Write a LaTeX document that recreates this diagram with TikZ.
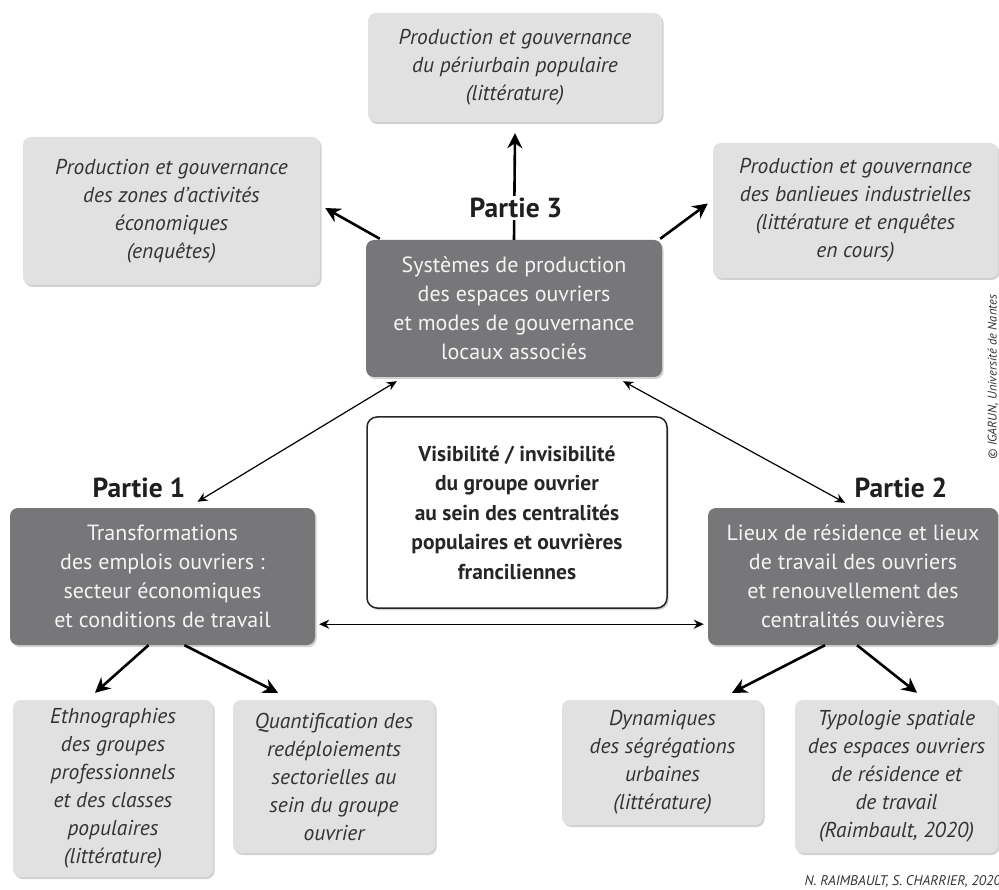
\documentclass[tikz,border=0pt]{standalone}
\usepackage{fontspec}
\setmainfont{PT Sans}
\usetikzlibrary{arrows.meta,shadows,calc}
\definecolor{lightbox}{HTML}{E1E1E2}
\definecolor{darkbox}{HTML}{77777A}
\definecolor{txt}{HTML}{333333}
\definecolor{wtxt}{HTML}{F4F4F4}
\tikzset{
  shade/.style={drop shadow={fill=black, opacity=0.18, shadow xshift=1.5pt, shadow yshift=-2pt}},
  lbox/.style={fill=lightbox, rounded corners=8pt, align=center, inner sep=0pt, text=txt,
     font=\itshape\fontsize{21.5}{28}\selectfont, shade},
  dbox/.style={fill=darkbox, rounded corners=8pt, align=center, inner sep=0pt, text=wtxt,
     font=\fontsize{22}{29}\selectfont, shade},
  wbox/.style={fill=white, draw=black!85, line width=1.5pt, rounded corners=10pt, align=center, inner sep=0pt, text=black!85,
     font=\bfseries\fontsize{21.5}{29.5}\selectfont, shade},
  partlabel/.style={font=\bfseries\fontsize{27.5}{30}\selectfont, text=black!88, inner sep=2pt},
  thickarrow/.style={line width=2.6pt, -{Stealth[length=15pt,width=15pt]}},
  thinarrow/.style={line width=1.2pt, {Stealth[length=10pt,width=9pt]}-{Stealth[length=10pt,width=9pt]}},
}
\begin{document}
\begin{tikzpicture}[x=1pt,y=-1pt]
\useasboundingbox[fill=white] (0,0) rectangle (999,890);

% nodes
\node[lbox, minimum width=294pt, minimum height=109pt] (top) at (515,67.5)
  {Production et gouvernance\\du périurbain populaire\\(littérature)};
\node[lbox, minimum width=297pt, minimum height=148pt] (tl) at (171.5,211)
  {Production et gouvernance\\des zones d’activités\\économiques\\(enquêtes)};
\node[lbox, minimum width=285pt, minimum height=135pt] (tr) at (855.5,210.5)
  {Production et gouvernance\\des banlieues industrielles\\(littérature et enquêtes\\en cours)};
\node[dbox, minimum width=296pt, minimum height=137pt] (cd) at (514,308.5)
  {Systèmes de production\\des espaces ouvriers\\et modes de gouvernance\\locaux associés};
\node[wbox, minimum width=300pt, minimum height=191pt] (cw) at (517,512.5)
  {Visibilité / invisibilité\\du groupe ouvrier\\au sein des centralités\\populaires et ouvrières\\franciliennes};
\node[dbox, minimum width=305pt, minimum height=137pt] (p1) at (162.5,576.5)
  {Transformations\\des emplois ouvriers :\\secteur économiques\\et conditions de travail};
\node[dbox, minimum width=290pt, minimum height=137pt] (p2) at (853,576.5)
  {Lieux de résidence et lieux\\de travail des ouvriers\\et renouvellement des\\centralités ouvières};
\node[lbox, minimum width=200pt, minimum height=177pt] (eth) at (113,788.5)
  {Ethnographies\\des groupes\\professionnels\\et des classes\\populaires\\(littérature)};
\node[lbox, minimum width=202pt, minimum height=153pt] (qua) at (334,776.5)
  {Quantification des\\redéploiements\\sectorielles au\\sein du groupe\\ouvrier};
\node[lbox, minimum width=201pt, minimum height=125pt] (dyn) at (662.5,762.5)
  {Dynamiques\\des ségrégations\\urbaines\\(littérature)};
\node[lbox, minimum width=203pt, minimum height=153pt] (typ) at (896.5,776.5)
  {Typologie spatiale\\des espaces ouvriers\\de résidence et\\de travail\\(Raimbault, 2020)};

% connectors
\draw[thickarrow] (cd.north) -- ($(top.south)+(0,11)$);
\node[partlabel, fill=white] (l3) at (516,208) {Partie 3};
\draw[thickarrow] ($(cd.north west)+(14,-1)$) -- ($(tl.east)+(5,-3)$);
\draw[thickarrow] ($(cd.north east)+(-2,-1)$) -- ($(tr.west)+(-5,-7)$);
\draw[thinarrow] ($(cd.south west)+(31,4)$) -- ($(p1.north)+(35,-6)$);
\draw[thinarrow] ($(cd.south east)+(-39,4)$) -- ($(p2.north)+(-8,-5)$);
\draw[thinarrow] ($(p1.south east)+(4,-21)$) -- ($(p2.south west)+(-4,-21)$);
\draw[thickarrow] ($(p1.south)+(-14,0)$) -- ($(eth.north)+(-18,-7)$);
\draw[thickarrow] ($(p1.south)+(22,0)$) -- ($(qua.north)+(-56,-7)$);
\draw[thickarrow] ($(p2.south)+(-28,0)$) -- ($(dyn.north)+(69.5,-7)$);
\draw[thickarrow] ($(p2.south)+(4,0)$) -- ($(typ.north)+(20.5,-7)$);

\node[partlabel] (l1) at (139,488) {Partie 1};
\node[partlabel] (l2) at (901,488) {Partie 2};

\node[rotate=90, font=\itshape\fontsize{12.5}{14}\selectfont, text=txt] (copy) at (993,377)
  {© IGARUN, Université de Nantes};
\node[anchor=east, font=\itshape\fontsize{14}{16}\selectfont, text=txt, inner sep=0pt] (credit) at (1001,882)
  {N. RAIMBAULT, S. CHARRIER, 2020};
\end{tikzpicture}
\end{document}
